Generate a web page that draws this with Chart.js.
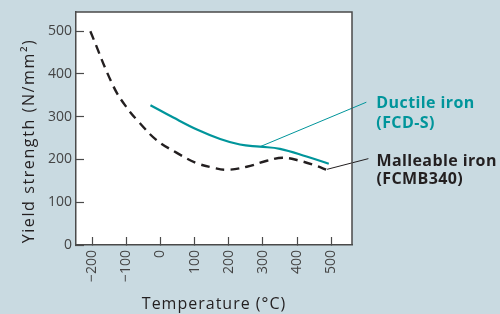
<!DOCTYPE html>
<html>
<head>
<meta charset="utf-8">
<script src="https://cdn.jsdelivr.net/npm/chart.js@4.4.1/dist/chart.umd.min.js"></script>
<style>
  html, body { margin: 0; padding: 0; background: #c9dae1; }
  #wrap { width: 500px; height: 314px; }
</style>
</head>
<body>
<div id="wrap"><canvas id="yieldChart" width="500" height="314"></canvas></div>
<script>
// temperatures (°C) and yield strength (N/mm²)
const malleableTemp = [-205, -138, -99, -61, -12, 47, 105, 154, 195, 253, 312, 359, 408, 457, 486];
const malleableYield = [500, 372, 322, 286, 246, 216, 192, 181, 176, 183, 197, 204, 197, 185, 176];

const ductileTemp = [-29, 38, 107, 175, 233, 291, 350, 428, 493];
const ductileYield = [327, 298, 270, 248, 235, 230, 225, 207, 190];

// leader lines from curve to label
const ductileLeaderTemp = [292, 603];
const ductileLeaderYield = [230, 334];
const malleableLeaderTemp = [488, 609];
const malleableLeaderYield = [177, 202];

const xTicks = [-200, -100, 0, 100, 200, 300, 400, 500];
const yTicks = [0, 100, 200, 300, 400, 500];

const teal = '#00959b';
const ink = '#231f20';
const axisGrey = '#4a4a4a';
const fontFamily = '"Open Sans", "Noto Sans", sans-serif';

function toPoints(xs, ys) {
    return xs.map((x, i) => ({ x: x, y: ys[i] }));
}

// backgrounds, plot frame, labels and axis titles
const decorPlugin = {
    id: 'decor',
    beforeDraw(chart) {
        const ctx = chart.ctx;
        const a = chart.chartArea;
        ctx.save();
        ctx.fillStyle = '#c9dae1';
        ctx.fillRect(0, 0, chart.width, chart.height);
        ctx.fillStyle = '#ffffff';
        ctx.fillRect(a.left, a.top, a.right - a.left, a.bottom - a.top);
        ctx.restore();
    },
    afterDraw(chart) {
        const ctx = chart.ctx;
        const a = chart.chartArea;
        const xs = chart.scales.x;
        const ys = chart.scales.y;
        ctx.save();

        // top and right edge of the frame
        ctx.strokeStyle = axisGrey;
        ctx.lineWidth = 1.5;
        ctx.beginPath();
        ctx.moveTo(a.left, a.top);
        ctx.lineTo(a.right, a.top);
        ctx.lineTo(a.right, a.bottom);
        ctx.stroke();

        // curve labels next to the leader ends
        ctx.font = 'bold 16px ' + fontFamily;
        ctx.letterSpacing = '0.4px';
        ctx.textAlign = 'left';
        ctx.textBaseline = 'middle';
        let px = xs.getPixelForValue(ductileLeaderTemp[1]);
        let py = ys.getPixelForValue(ductileLeaderYield[1]);
        ctx.fillStyle = teal;
        ctx.fillText('Ductile iron', px + 10, py + 1);
        ctx.fillText('(FCD-S)', px + 10, py + 21);

        px = xs.getPixelForValue(malleableLeaderTemp[1]);
        py = ys.getPixelForValue(malleableLeaderYield[1]);
        ctx.fillStyle = ink;
        ctx.fillText('Malleable iron', px + 8, py + 3);
        ctx.fillText('(FCMB340)', px + 8, py + 21);

        // axis titles
        ctx.font = '16px ' + fontFamily;
        ctx.letterSpacing = '1px';
        ctx.fillStyle = ink;
        ctx.textAlign = 'center';
        ctx.fillText('Temperature (°C)', (a.left + a.right) / 2, 304);
        ctx.letterSpacing = '1.6px';
        ctx.translate(29, 141);
        ctx.rotate(-Math.PI / 2);
        ctx.fillText('Yield strength (N/mm²)', 0, 0);
        ctx.restore();
    }
};

const ctx = document.getElementById('yieldChart').getContext('2d');
const yieldChart = new Chart(ctx, {
    type: 'line',
    data: {
        datasets: [
            {
                label: 'Malleable iron (FCMB340)',
                data: toPoints(malleableTemp, malleableYield),
                borderColor: ink,
                borderWidth: 2.4,
                borderDash: [9, 6],
                pointRadius: 0,
                tension: 0.4
            },
            {
                label: 'Ductile iron (FCD-S)',
                data: toPoints(ductileTemp, ductileYield),
                borderColor: teal,
                borderWidth: 2.2,
                pointRadius: 0,
                tension: 0.4
            },
            {
                label: 'ductile leader',
                data: toPoints(ductileLeaderTemp, ductileLeaderYield),
                borderColor: teal,
                borderWidth: 1,
                pointRadius: 0,
                clip: false
            },
            {
                label: 'malleable leader',
                data: toPoints(malleableLeaderTemp, malleableLeaderYield),
                borderColor: ink,
                borderWidth: 1,
                pointRadius: 0,
                clip: false
            }
        ]
    },
    options: {
        responsive: false,
        animation: false,
        devicePixelRatio: 1,
        layout: { padding: { top: 12, right: 148, left: 0, bottom: 0 } },
        plugins: {
            legend: { display: false },
            tooltip: { enabled: false }
        },
        scales: {
            x: {
                type: 'linear',
                min: -247,
                max: 561,
                afterFit: scale => {
                    scale.height = 69;
                    scale.paddingLeft = 0;
                    scale.paddingRight = 0;
                },
                afterBuildTicks: scale => { scale.ticks = xTicks.map(v => ({ value: v })); },
                grid: { drawOnChartArea: false, tickLength: -8, color: axisGrey, tickWidth: 1.2 },
                border: { color: axisGrey, width: 1.5 },
                ticks: {
                    minRotation: 90,
                    maxRotation: 90,
                    padding: 13,
                    color: '#444',
                    font: { family: fontFamily, size: 14 },
                    callback: v => (v < 0 ? '\u2212' + Math.abs(v) : String(v))
                }
            },
            y: {
                min: 0,
                max: 545,
                afterFit: scale => {
                    scale.width = 76;
                    scale.paddingTop = 0;
                    scale.paddingBottom = 0;
                },
                afterBuildTicks: scale => { scale.ticks = yTicks.map(v => ({ value: v })); },
                grid: { drawOnChartArea: false, tickLength: -8, color: axisGrey, tickWidth: 1.2 },
                border: { color: axisGrey, width: 1.5 },
                ticks: {
                    padding: 12,
                    color: '#444',
                    font: { family: fontFamily, size: 14 }
                }
            }
        }
    },
    plugins: [decorPlugin]
});
</script>
</body>
</html>
